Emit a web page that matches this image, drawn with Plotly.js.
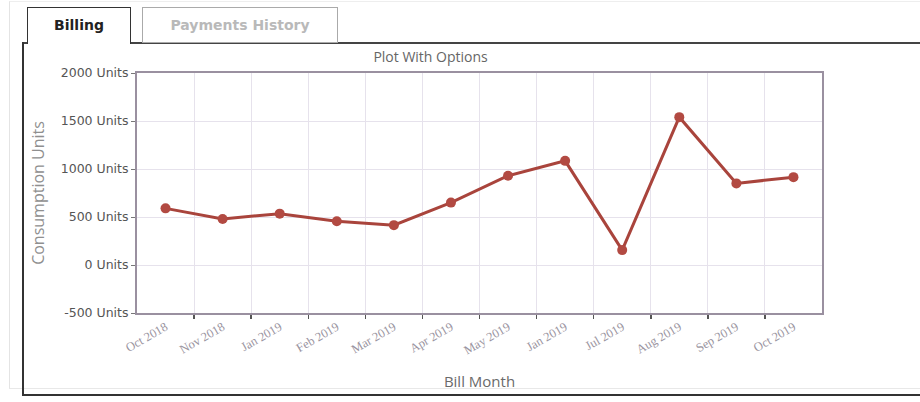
<!DOCTYPE html>
<html>
<head>
<meta charset="utf-8">
<script src="https://cdn.plot.ly/plotly-3.0.1.min.js"></script>
<style>
  html, body { margin: 0; padding: 0; background: #fff; width: 920px; height: 402px; overflow: hidden; }
  #wrap { position: relative; width: 920px; height: 402px; }
  #chart { position: absolute; left: 0; top: 0; width: 920px; height: 402px; }
  .tab { position: absolute; font-family: Tahoma, "DejaVu Sans", sans-serif; font-weight: bold; font-size: 14px; text-align: center; box-sizing: border-box; }
  #tab1 { left: 27px; top: 7px; width: 104px; height: 37px; border: 1.5px solid #333; border-bottom: none; background: #fff; color: #222; line-height: 34px; z-index: 3; }
  #tab2 { left: 142px; top: 7px; width: 196px; height: 36px; border: 1px solid #aaa; color: #b9b9b9; line-height: 34px; z-index: 3; }
  #panelTop { position: absolute; left: 131px; top: 42px; width: 789px; height: 0; border-top: 2px solid #444; z-index: 2; }
  #panelTop2 { position: absolute; left: 22px; top: 42px; width: 6px; height: 0; border-top: 2px solid #444; z-index: 2; }
  #panelLeft { position: absolute; left: 22px; top: 42px; width: 0; height: 353px; border-left: 2px solid #333; z-index: 2; }
  #panelBottom { position: absolute; left: 22px; top: 394px; width: 898px; height: 0; border-top: 2px solid #333; z-index: 2; }
  #faint { position: absolute; left: 9px; top: 1px; width: 911px; height: 386px; border-left: 1px solid #e4e4e4; border-top: 1px solid #eee; border-bottom: 1px solid #e8e8e8; z-index: 0; }
</style>
</head>
<body>
<div id="wrap">
  <div id="faint"></div>
  <div id="chart"></div>
  <div id="panelTop"></div>
  <div id="panelTop2"></div>
  <div id="panelLeft"></div>
  <div id="panelBottom"></div>
  <div class="tab" id="tab1">Billing</div>
  <div class="tab" id="tab2">Payments History</div>
</div>
<script>
// Data
const months = ["Oct 2018", "Nov 2018", "Jan 2019", "Feb 2019", "Mar 2019", "Apr 2019",
                "May 2019", "Jan 2019", "Jul 2019", "Aug 2019", "Sep 2019", "Oct 2019"];
const consumption = [590, 480, 535, 455, 415, 650, 930, 1085, 155, 1540, 850, 915];
const yTicks = [-500, 0, 500, 1000, 1500, 2000];
const yTickText = yTicks.map(v => v + ' Units');

const idx = months.map((m, i) => i);
const boundaries = months.slice(1).map((m, i) => i + 0.5);

const trace = {
  x: idx,
  y: consumption,
  type: 'scatter',
  mode: 'lines+markers',
  line: { color: '#a9443c', width: 3 },
  marker: { color: '#b24a42', size: 10 },
  hoverinfo: 'skip'
};

const layout = {
  width: 920,
  height: 402,
  margin: { l: 137, r: 98, t: 73, b: 89 },
  paper_bgcolor: 'rgba(0,0,0,0)',
  plot_bgcolor: '#ffffff',
  showlegend: false,
  title: {
    text: 'Plot With Options',
    font: { family: 'Open Sans, DejaVu Sans, sans-serif', size: 14, color: '#666' },
    x: 0.468, xref: 'container', xanchor: 'center',
    y: 1 - 57 / 402, yref: 'container', yanchor: 'middle'
  },
  xaxis: {
    range: [-0.5, months.length - 0.5],
    tickvals: idx,
    ticktext: months,
    tickangle: -30,
    ticks: '',
    showgrid: false,
    zeroline: false,
    showline: true,
    linecolor: '#9a90a0',
    linewidth: 2,
    mirror: true,
    tickfont: { family: 'Liberation Serif, DejaVu Serif, serif', size: 12.5, color: '#9a94a0' },
    minor: {
      tickvals: boundaries,
      ticks: 'outside',
      ticklen: 4,
      tickcolor: '#555',
      tickwidth: 1.5,
      showgrid: true,
      gridcolor: '#e6e2ec',
      gridwidth: 1
    },
    title: {
      text: 'Bill Month',
      font: { family: 'Open Sans, DejaVu Sans, sans-serif', size: 15, color: '#6a6a6a' },
      standoff: 20
    },
    automargin: false
  },
  yaxis: {
    range: [-500, 2000],
    tickvals: yTicks,
    ticktext: yTickText,
    ticks: 'outside',
    ticklen: 4,
    tickcolor: '#777',
    showgrid: true,
    gridcolor: '#e6e2ec',
    gridwidth: 1,
    zeroline: false,
    showline: true,
    linecolor: '#9a90a0',
    linewidth: 2,
    mirror: true,
    tickfont: { family: 'DejaVu Sans, sans-serif', size: 12.5, color: '#555' },
    title: {
      text: 'Consumption Units',
      font: { family: 'Open Sans, DejaVu Sans, sans-serif', size: 16, color: '#8f8f8f' },
      standoff: 12
    },
    automargin: false
  }
};

Plotly.newPlot('chart', [trace], layout, { staticPlot: true, displayModeBar: false });
</script>
</body>
</html>
